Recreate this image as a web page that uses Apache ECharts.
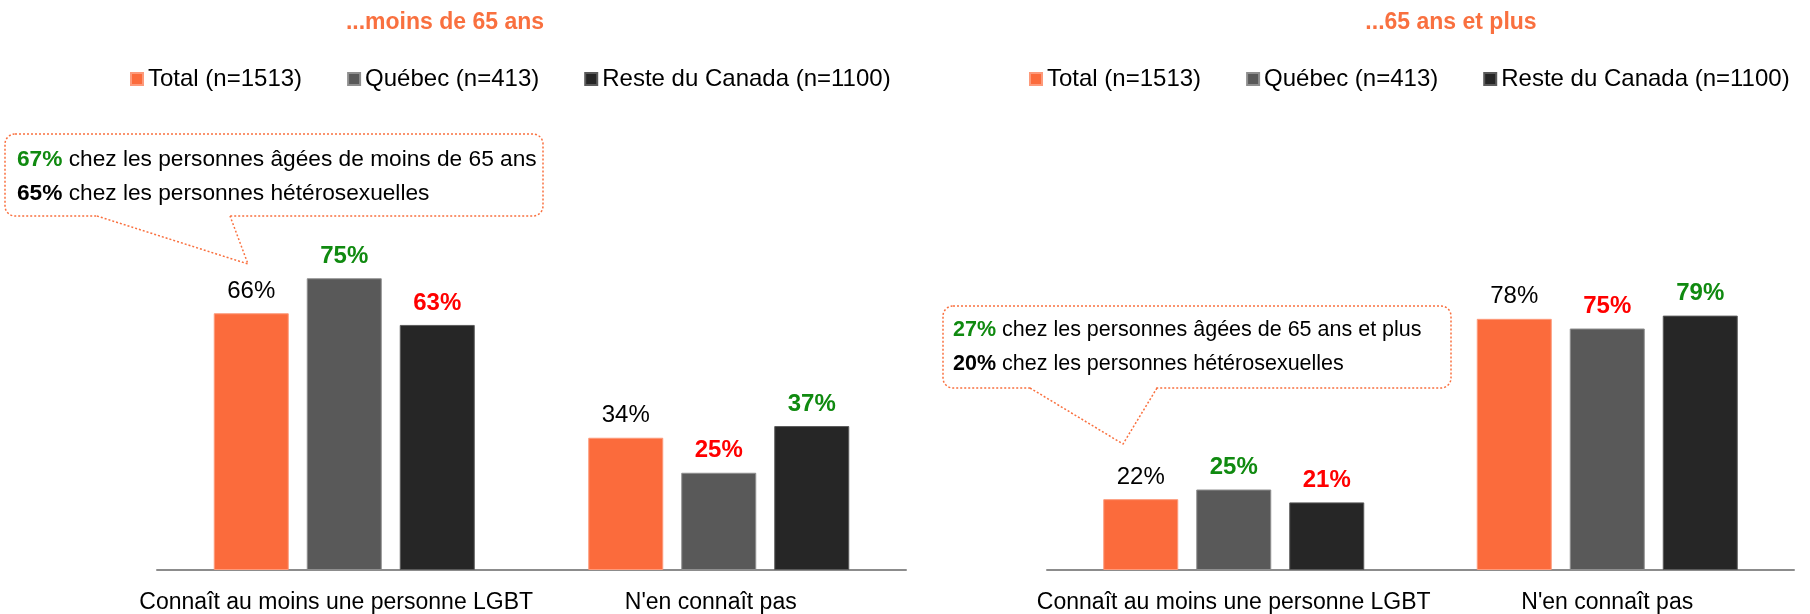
<!DOCTYPE html>
<html>
<head>
<meta charset="utf-8">
<script src="https://cdn.jsdelivr.net/npm/echarts@6/dist/echarts.min.js"></script>
<style>
  html, body { margin: 0; padding: 0; background: #fff; }
  #chart { width: 1810px; height: 614px; }
</style>
</head>
<body>
<div id="chart"></div>
<script>
// data
const categories = ['Connaît au moins une personne LGBT', "N'en connaît pas"]
const seriesNames = ['Total (n=1513)', 'Québec (n=413)', 'Reste du Canada (n=1100)']
const panelTitles = ['...moins de 65 ans', '...65 ans et plus']

const under65Total = [66, 34]
const under65Quebec = [75, 25]
const under65Rest = [63, 37]
const over65Total = [22, 78]
const over65Quebec = [25, 75]
const over65Rest = [21, 79]

// significance of each value label: '' = none, 'up' = green, 'down' = red
const under65TotalSig = ['', '']
const under65QuebecSig = ['up', 'down']
const under65RestSig = ['down', 'up']
const over65TotalSig = ['', '']
const over65QuebecSig = ['up', 'down']
const over65RestSig = ['down', 'up']

const calloutUnder65 = ['67%', 'chez les personnes âgées de moins de 65 ans', '65%', 'chez les personnes hétérosexuelles']
const calloutOver65 = ['27%', 'chez les personnes âgées de 65 ans et plus', '20%', 'chez les personnes hétérosexuelles']

const FONT = '"Liberation Sans", Arial, sans-serif'
const colors = ['#fb6b3c', '#595959', '#262626']
const borders = ['#fd9a7b', '#8f8f8f', '#5a5a5a']
const sigColor = { '': '#000000', up: '#108a10', down: '#ff0000' }

function buildData(values, sig) {
  return values.map((v, i) => ({
    value: v,
    label: {
      color: sigColor[sig[i]],
      fontWeight: sig[i] ? 'bold' : 'normal'
    }
  }))
}

function makeSeries(idx, gridIdx, values, sig) {
  return {
    type: 'bar',
    name: seriesNames[idx],
    xAxisIndex: gridIdx,
    yAxisIndex: gridIdx,
    barWidth: 75,
    barGap: '24%',
    itemStyle: { color: colors[idx], borderColor: borders[idx], borderWidth: 1 },
    label: {
      show: true,
      position: 'top',
      distance: 10,
      formatter: '{c}%',
      fontSize: 24,
      fontFamily: FONT
    },
    data: buildData(values, sig)
  }
}

const bubbleStroke = '#f9703f'

// speech bubble: rounded box, white patch over the base of the pointer, dotted pointer
function bubble(x0, y0, x1, y1, bx1, bx2, tx, ty) {
  return [
    { type: 'rect', shape: { x: x0, y: y0, width: x1 - x0, height: y1 - y0, r: 10 },
      style: { fill: '#fff', stroke: bubbleStroke, lineWidth: 1.5, lineDash: [2, 2] } },
    { type: 'line', shape: { x1: bx1 + 1, y1: y1, x2: bx2 - 1, y2: y1 },
      style: { stroke: '#fff', lineWidth: 3 } },
    { type: 'polyline', shape: { points: [[bx1, y1], [tx, ty], [bx2, y1]] },
      style: { fill: null, stroke: bubbleStroke, lineWidth: 1.5, lineDash: [2, 2] } }
  ]
}

function calloutText(lines, x, y, fs) {
  return {
    type: 'text',
    x: x,
    y: y,
    style: {
      text: '{g|' + lines[0] + '}{n| ' + lines[1] + '}\n{b|' + lines[2] + '}{n| ' + lines[3] + '}',
      fill: '#000',
      fontSize: fs,
      fontFamily: FONT,
      lineHeight: 34,
      rich: {
        g: { fill: '#108a10', fontWeight: 'bold', fontSize: fs, fontFamily: FONT, lineHeight: 34 },
        b: { fill: '#000', fontWeight: 'bold', fontSize: fs, fontFamily: FONT, lineHeight: 34 },
        n: { fill: '#000', fontSize: fs, fontFamily: FONT, lineHeight: 34 }
      }
    }
  }
}

const chart = echarts.init(document.getElementById('chart'))

const axisCommon = {
  type: 'category',
  data: categories,
  axisTick: { show: false },
  axisLine: { lineStyle: { color: '#8c8c8c', width: 2 } },
  axisLabel: { color: '#000', fontSize: 23, fontFamily: FONT, margin: 21, interval: 0 }
}

const legendCommon = {
  data: seriesNames,
  itemWidth: 12,
  itemHeight: 12,
  itemGap: 45,
  icon: 'rect',
  top: 62,
  textStyle: { color: '#000', fontSize: 24, fontFamily: FONT }
}

chart.setOption({
  animation: false,
  backgroundColor: '#fff',
  title: [
    { text: panelTitles[0], left: 440, top: 6, textAlign: 'center',
      textStyle: { color: bubbleStroke, fontSize: 23, fontWeight: 'bold', fontFamily: FONT } },
    { text: panelTitles[1], left: 1446, top: 6, textAlign: 'center',
      textStyle: { color: bubbleStroke, fontSize: 23, fontWeight: 'bold', fontFamily: FONT } }
  ],
  legend: [
    Object.assign({ left: 125 }, legendCommon),
    Object.assign({ left: 1024 }, legendCommon)
  ],
  grid: [
    { left: 157, width: 749, top: 181, height: 392 },
    { left: 1047, width: 747, top: 248, height: 324 }
  ],
  xAxis: [
    Object.assign({ gridIndex: 0 }, axisCommon,
      { axisLabel: Object.assign({}, axisCommon.axisLabel, { padding: [0, 16, 0, 0] }) }),
    Object.assign({ gridIndex: 1 }, axisCommon)
  ],
  yAxis: [
    { gridIndex: 0, type: 'value', min: 0, max: 100, show: false },
    { gridIndex: 1, type: 'value', min: 0, max: 100, show: false }
  ],
  series: [
    makeSeries(0, 0, under65Total, under65TotalSig),
    makeSeries(1, 0, under65Quebec, under65QuebecSig),
    makeSeries(2, 0, under65Rest, under65RestSig),
    makeSeries(0, 1, over65Total, over65TotalSig),
    makeSeries(1, 1, over65Quebec, over65QuebecSig),
    makeSeries(2, 1, over65Rest, over65RestSig)
  ],
  graphic: [].concat(
    bubble(5, 134, 543, 216, 97, 230, 248, 264),
    [calloutText(calloutUnder65, 17, 143, 22.7)],
    bubble(943, 306, 1451, 388, 1030, 1157, 1123, 444),
    [calloutText(calloutOver65, 953, 313, 21.5)]
  )
})

window.addEventListener('resize', () => {
  chart.resize()
})
</script>
</body>
</html>
